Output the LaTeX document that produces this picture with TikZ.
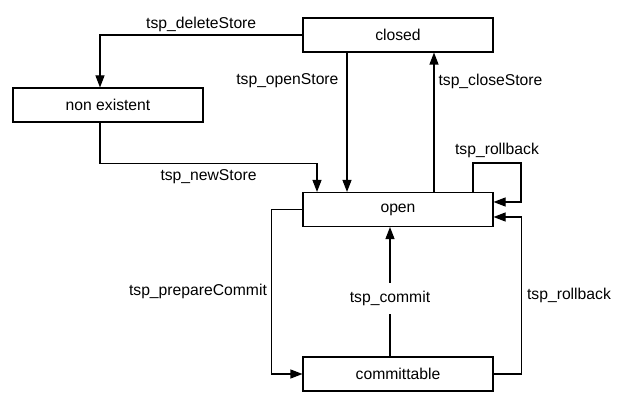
\documentclass[tikz,border=0pt]{standalone}
\usepackage{fontspec}
\setmainfont{Liberation Sans}
\usetikzlibrary{arrows.meta}

\begin{document}
\begin{tikzpicture}[x=1pt,y=-1pt,
    state/.style={draw,line width=1.1pt,minimum width=190pt,minimum height=34pt,
                  inner sep=0pt,font=\fontsize{15.7}{19}\selectfont},
    trans/.style={line width=1.1pt,-{Triangle[length=12pt,width=9pt]}},
    lbl/.style={font=\fontsize{15.7}{19}\selectfont,inner sep=3pt}]

    \useasboundingbox (0,0) rectangle (619,395);

    % States
    \node[state] (closed) at (398,35) {closed};
    \node[state] (nonex) at (108,105) {non existent};
    \node[state] (open) at (398,209.5) {open};
    \node[state] (commit) at (398,374) {committable};

    % Store handling
    \draw[trans] (closed.west) -| ([xshift=-8pt]nonex.north)
      node[lbl,pos=0.25,above=0pt] {tsp\_deleteStore};
    \draw[trans] ([xshift=-8pt]nonex.south) -- ++(0,41) -| ([xshift=-81pt]open.north)
      node[lbl,pos=0.25,below=2pt] {tsp\_newStore};
    \draw[trans] ([xshift=-51pt]closed.south) -- ([xshift=-51pt]open.north)
      node[lbl,pos=0.2,left=5pt] {tsp\_openStore};
    \draw[trans] ([xshift=36pt]open.north) -- ([xshift=36pt]closed.south)
      node[lbl,pos=0.79,right=1pt] {tsp\_closeStore};

    % Transactions
    \coordinate (loopR) at (521,163);
    \draw[trans] ([xshift=75pt]open.north) |- (loopR)
      node[lbl,pos=0.75,above=2pt] {tsp\_rollback}
      |- ([yshift=7.5pt]open.east);
    \draw[trans] (open.west) -- ++(-31,0) |- (commit.west)
      node[lbl,pos=0.25,left=1pt] {tsp\_prepareCommit};
    \draw[trans] ([xshift=-8pt]commit.north) -- ([xshift=-8pt]open.south)
      node[lbl,pos=0.45,fill=white,inner sep=8pt] {tsp\_commit};
    \draw[trans] (commit.east) -- ++(28,0) |- ([yshift=-7.5pt]open.east)
      node[lbl,pos=0.25,right=2pt] {tsp\_rollback};
  \end{tikzpicture}
\end{document}
